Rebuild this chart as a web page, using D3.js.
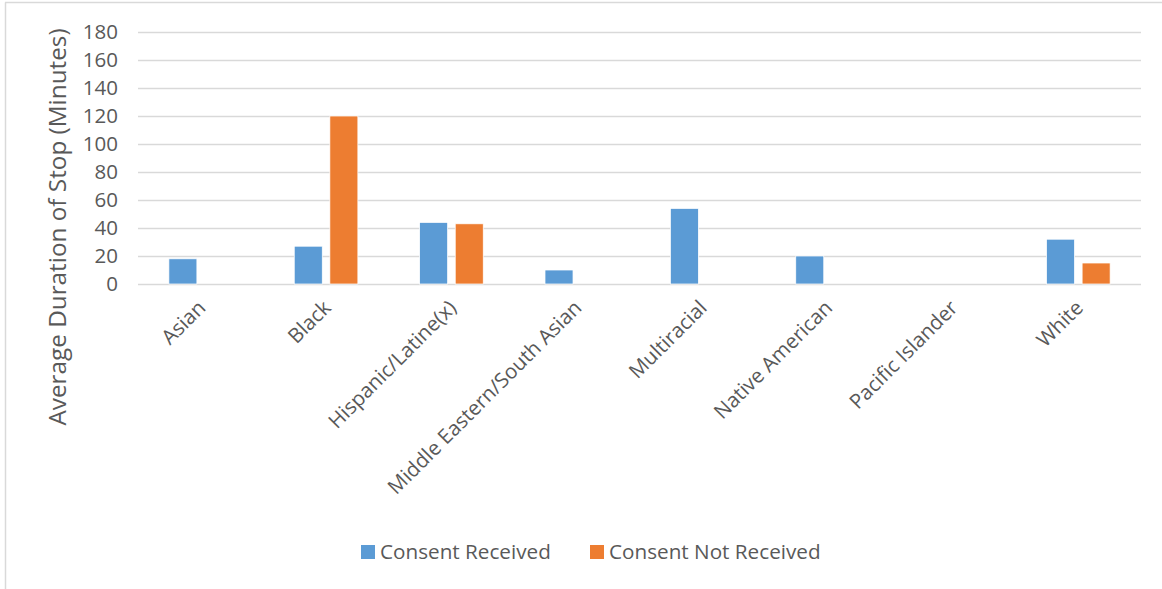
<!DOCTYPE html>
<html><head><meta charset="utf-8">
<script src="https://cdn.jsdelivr.net/npm/d3@7"></script>
<style>
html,body{margin:0;padding:0;background:#fff;}
svg{display:block;font-family:"Open Sans", "Noto Sans", sans-serif;}
</style></head>
<body><svg id="chart" width="1162" height="589"></svg>
<script>
const categories = ["Asian","Black","Hispanic/Latine(x)","Middle Eastern/South Asian","Multiracial","Native American","Pacific Islander","White"];
const seriesNames = ["Consent Received","Consent Not Received"];
const consentReceived = [18, 27, 44, 10, 54, 20, null, 32];
const consentNotReceived = [null, 120, 43, null, null, null, null, 15];
const yTicks = [0,20,40,60,80,100,120,140,160,180];
const colors = ["#5B9BD5","#ED7D31"];
const yTitle = "Average Duration of Stop (Minutes)";

const svg = d3.select("#chart");
const W = 1162, H = 589;
const m = {left:138, right:21, top:32, bottom:305};
const x = d3.scaleBand().domain(categories).range([m.left, W-m.right]).paddingInner(0).paddingOuter(0);
const y = d3.scaleLinear().domain([0,180]).range([H-m.bottom, m.top]);
const x1 = d3.scaleBand().domain(seriesNames).range([0, x.bandwidth()]).paddingInner(0.213).paddingOuter(0.867);

// chart border (left & top)
svg.append("line").attr("x1",5.5).attr("x2",5.5).attr("y1",2.5).attr("y2",H).attr("stroke","#d9d9d9").attr("stroke-width",1.5);
svg.append("line").attr("x1",5).attr("x2",W).attr("y1",2.5).attr("y2",2.5).attr("stroke","#d9d9d9").attr("stroke-width",1.5);

// gridlines
const gy = svg.append("g").attr("transform",`translate(${m.left},0)`)
  .call(d3.axisLeft(y).tickValues(yTicks).tickSize(-(W-m.left-m.right)).tickFormat(""));
gy.select(".domain").remove();
gy.selectAll(".tick line").attr("stroke","#d9d9d9").attr("stroke-width",1.5);

// y tick labels
const gl = svg.append("g").attr("transform",`translate(${m.left},0)`)
  .call(d3.axisLeft(y).tickValues(yTicks).tickSize(0).tickPadding(20));
gl.select(".domain").remove();
gl.selectAll("text").attr("fill","#595959").style("font-size","20.5px").style("font-family","'Open Sans', sans-serif");

// bars
const data = categories.map((c,i)=>({cat:c, vals:[consentReceived[i], consentNotReceived[i]]}));
const grp = svg.append("g").selectAll("g").data(data).join("g").attr("transform",d=>`translate(${x(d.cat)},0)`);
grp.selectAll("rect").data(d=>d.vals.map((v,j)=>({v, s:seriesNames[j], j})).filter(e=>e.v!=null))
  .join("rect")
  .attr("x",e=>x1(e.s)).attr("width",x1.bandwidth())
  .attr("y",e=>y(e.v)).attr("height",e=>y(0)-y(e.v))
  .attr("fill",e=>colors[e.j]).attr("stroke","#fff").attr("stroke-width",0.75);

// x labels
const gx = svg.append("g").attr("transform",`translate(0,${y(0)})`)
  .call(d3.axisBottom(x).tickSize(0).tickPadding(0));
gx.select(".domain").remove();
gx.selectAll("text")
  .attr("fill","#595959").style("font-size","20.5px").style("font-family","'Open Sans', sans-serif")
  .attr("text-anchor","end")
  .attr("dy","0.35em")
  .attr("transform","translate(1,20) rotate(-45)");

// y title
svg.append("text").attr("transform","translate(66,227) rotate(-90)")
  .attr("text-anchor","middle").attr("fill","#595959").style("font-size","24.3px")
  .text(yTitle);

// legend
const lg = svg.append("g");
const legendX = [361, 590];
seriesNames.forEach((s,i)=>{
  lg.append("rect").attr("x",legendX[i]).attr("y",545).attr("width",14).attr("height",14).attr("fill",colors[i]);
  lg.append("text").attr("x",legendX[i]+19).attr("y",559).attr("fill","#595959").style("font-size","20.7px").text(s);
});
</script></body></html>
